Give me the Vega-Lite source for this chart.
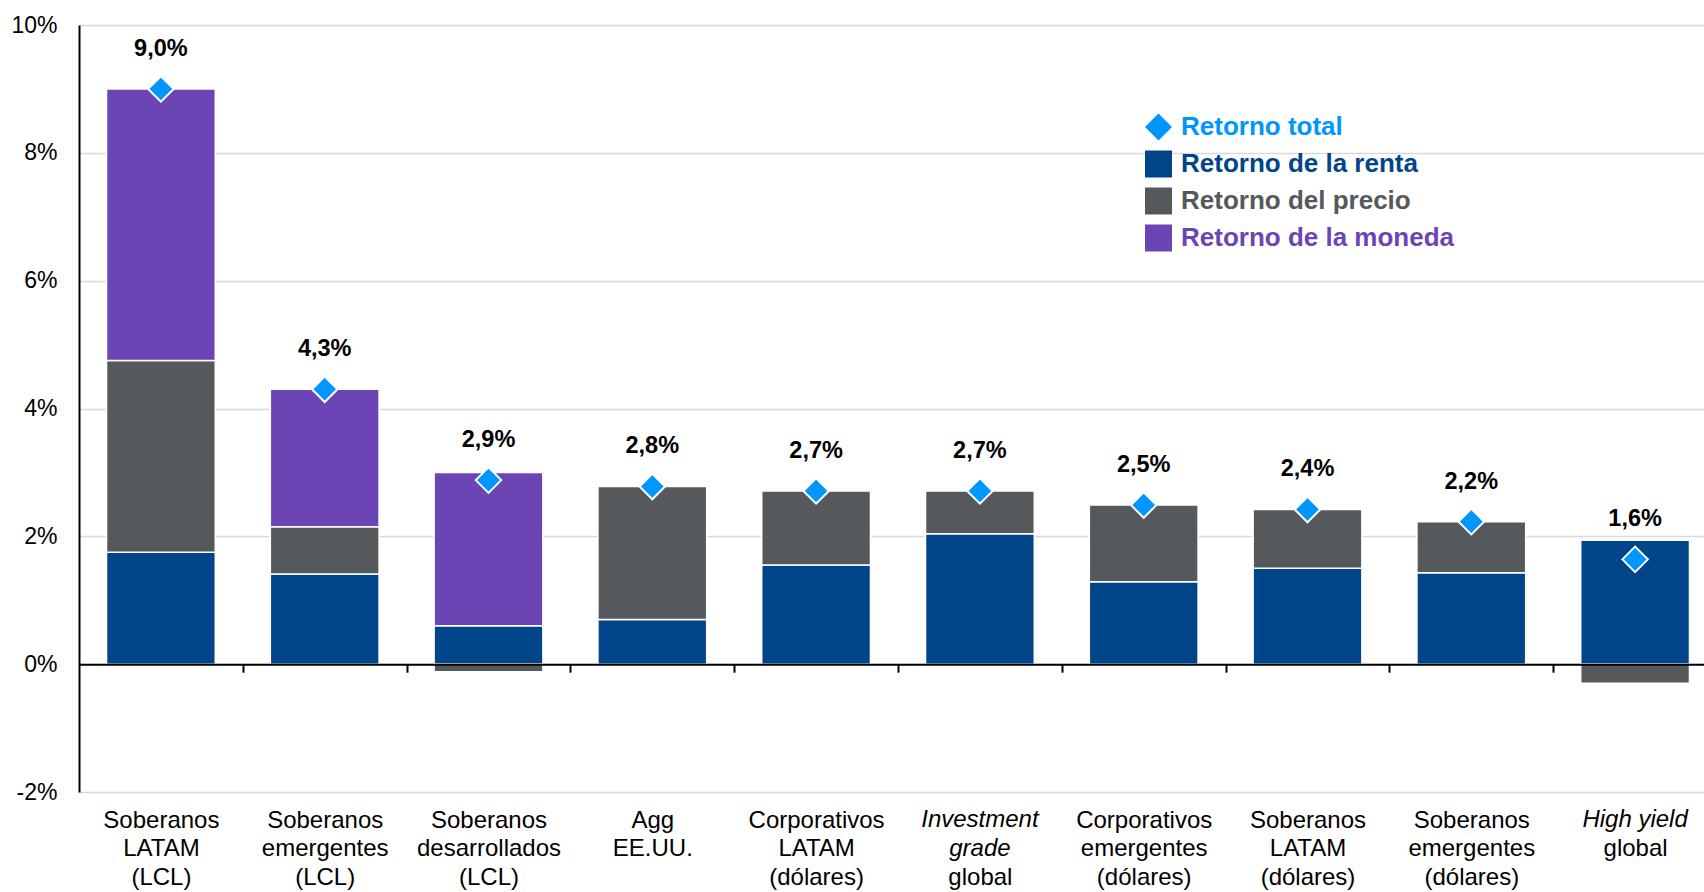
{
  "$schema": "https://vega.github.io/schema/vega-lite/v6.json",
  "width": 1625,
  "height": 767,
  "autosize": {"type": "none"},
  "padding": {"left": 79, "top": 25, "right": 0, "bottom": 100},
  "datasets": {
    "retornos": [
      {"categoria": "Soberanos|LATAM|(LCL)", "serie": "Retorno de la renta", "valor": 0.0175},
      {"categoria": "Soberanos|LATAM|(LCL)", "serie": "Retorno del precio", "valor": 0.0300},
      {"categoria": "Soberanos|LATAM|(LCL)", "serie": "Retorno de la moneda", "valor": 0.0425},
      {"categoria": "Soberanos|LATAM|(LCL)", "serie": "Retorno total", "valor": 0.0900},
      {"categoria": "Soberanos|emergentes|(LCL)", "serie": "Retorno de la renta", "valor": 0.0141},
      {"categoria": "Soberanos|emergentes|(LCL)", "serie": "Retorno del precio", "valor": 0.0074},
      {"categoria": "Soberanos|emergentes|(LCL)", "serie": "Retorno de la moneda", "valor": 0.0215},
      {"categoria": "Soberanos|emergentes|(LCL)", "serie": "Retorno total", "valor": 0.0430},
      {"categoria": "Soberanos|desarrollados|(LCL)", "serie": "Retorno de la renta", "valor": 0.0060},
      {"categoria": "Soberanos|desarrollados|(LCL)", "serie": "Retorno del precio", "valor": -0.0012},
      {"categoria": "Soberanos|desarrollados|(LCL)", "serie": "Retorno de la moneda", "valor": 0.0240},
      {"categoria": "Soberanos|desarrollados|(LCL)", "serie": "Retorno total", "valor": 0.0288},
      {"categoria": "Agg|EE.UU.", "serie": "Retorno de la renta", "valor": 0.0070},
      {"categoria": "Agg|EE.UU.", "serie": "Retorno del precio", "valor": 0.0208},
      {"categoria": "Agg|EE.UU.", "serie": "Retorno total", "valor": 0.0278},
      {"categoria": "Corporativos|LATAM|(dólares)", "serie": "Retorno de la renta", "valor": 0.0155},
      {"categoria": "Corporativos|LATAM|(dólares)", "serie": "Retorno del precio", "valor": 0.0116},
      {"categoria": "Corporativos|LATAM|(dólares)", "serie": "Retorno total", "valor": 0.0271},
      {"categoria": "Investment|grade|global", "serie": "Retorno de la renta", "valor": 0.0204},
      {"categoria": "Investment|grade|global", "serie": "Retorno del precio", "valor": 0.0067},
      {"categoria": "Investment|grade|global", "serie": "Retorno total", "valor": 0.0271},
      {"categoria": "Corporativos|emergentes|(dólares)", "serie": "Retorno de la renta", "valor": 0.0129},
      {"categoria": "Corporativos|emergentes|(dólares)", "serie": "Retorno del precio", "valor": 0.0120},
      {"categoria": "Corporativos|emergentes|(dólares)", "serie": "Retorno total", "valor": 0.0249},
      {"categoria": "Soberanos|LATAM|(dólares)", "serie": "Retorno de la renta", "valor": 0.0150},
      {"categoria": "Soberanos|LATAM|(dólares)", "serie": "Retorno del precio", "valor": 0.0092},
      {"categoria": "Soberanos|LATAM|(dólares)", "serie": "Retorno total", "valor": 0.0242},
      {"categoria": "Soberanos|emergentes|(dólares)", "serie": "Retorno de la renta", "valor": 0.0143},
      {"categoria": "Soberanos|emergentes|(dólares)", "serie": "Retorno del precio", "valor": 0.0080},
      {"categoria": "Soberanos|emergentes|(dólares)", "serie": "Retorno total", "valor": 0.0223},
      {"categoria": "High yield|global", "serie": "Retorno de la renta", "valor": 0.0194},
      {"categoria": "High yield|global", "serie": "Retorno del precio", "valor": -0.0030},
      {"categoria": "High yield|global", "serie": "Retorno total", "valor": 0.0164}
    ],
    "cursiva": [
      {"categoria": "Investment|grade|global", "texto": "Investment|grade"},
      {"categoria": "High yield|global", "texto": "High yield"}
    ]
  },
  "encoding": {
    "x": {
      "field": "categoria",
      "type": "nominal",
      "sort": null,
      "scale": {
        "domain": [
          "Soberanos|LATAM|(LCL)",
          "Soberanos|emergentes|(LCL)",
          "Soberanos|desarrollados|(LCL)",
          "Agg|EE.UU.",
          "Corporativos|LATAM|(dólares)",
          "Investment|grade|global",
          "Corporativos|emergentes|(dólares)",
          "Soberanos|LATAM|(dólares)",
          "Soberanos|emergentes|(dólares)",
          "High yield|global"
        ],
        "range": [0, 1638],
        "paddingInner": 0.336,
        "paddingOuter": 0.168
      },
      "axis": {
        "title": null,
        "offset": -127.8,
        "domain": true,
        "domainColor": "#000000",
        "domainWidth": 2,
        "ticks": true,
        "tickBand": "center",
        "tickOffset": 81.9,
        "labelOffset": -81.9,
        "tickColor": "#000000",
        "tickWidth": 2,
        "tickSize": 8,
        "labelAngle": 0,
        "labelFontSize": 24,
        "labelColor": "#000000",
        "labelLineHeight": 28.5,
        "labelPadding": 136,
        "labelLimit": 300,
        "labelExpr": "datum.label == 'Investment|grade|global' ? ['\u200b', '\u200b', 'global'] : datum.label == 'High yield|global' ? ['\u200b', 'global'] : split(datum.label, '|')",
        "zindex": 1
      }
    }
  },
  "layer": [
    {
      "data": {"name": "retornos"},
      "transform": [
        {"filter": "datum.serie != 'Retorno total'"},
        {"calculate": "indexof(['Retorno de la renta', 'Retorno del precio', 'Retorno de la moneda'], datum.serie)", "as": "orden"}
      ],
      "mark": {"type": "bar", "stroke": "white", "strokeWidth": 1.5},
      "encoding": {
        "y": {
          "field": "valor",
          "type": "quantitative",
          "stack": "zero",
          "scale": {"domain": [-0.02, 0.1], "nice": false, "zero": false},
          "axis": {
            "title": null,
            "values": [-0.02, 0, 0.02, 0.04, 0.06, 0.08, 0.1],
            "format": ".0%",
            "domain": true,
            "domainColor": "#000000",
            "domainWidth": 2,
            "ticks": false,
            "labelFontSize": 23,
            "labelColor": "#000000",
            "labelPadding": 22,
            "grid": true,
            "gridColor": "#d9d9d9",
            "gridWidth": 1.5
          }
        },
        "color": {
          "field": "serie",
          "type": "nominal",
          "scale": {
            "domain": ["Retorno total", "Retorno de la renta", "Retorno del precio", "Retorno de la moneda"],
            "range": ["#0096FF", "#00458A", "#55595C", "#6C45B5"]
          }
        },
        "order": {"field": "orden", "type": "quantitative", "sort": "ascending"}
      }
    },
    {
      "data": {"name": "retornos"},
      "transform": [{"filter": "datum.serie == 'Retorno total'"}],
      "mark": {"type": "point", "filled": true, "size": 650, "stroke": "white", "strokeWidth": 2, "opacity": 1},
      "encoding": {
        "y": {"field": "valor", "type": "quantitative"},
        "color": {"field": "serie", "type": "nominal"},
        "shape": {
          "field": "serie",
          "type": "nominal",
          "scale": {
            "domain": ["Retorno total", "Retorno de la renta", "Retorno del precio", "Retorno de la moneda"],
            "range": ["diamond", "square", "square", "square"]
          }
        }
      }
    },
    {
      "data": {"name": "retornos"},
      "transform": [{"filter": "datum.serie == 'Retorno total'"}],
      "mark": {"type": "text", "fontWeight": "bold", "fontSize": 23.5, "dy": -40, "baseline": "middle", "align": "center", "color": "#000000"},
      "encoding": {
        "y": {"field": "valor", "type": "quantitative"},
        "text": {"field": "valor", "type": "quantitative", "format": ".1%"}
      }
    },
    {
      "data": {"name": "cursiva"},
      "mark": {"type": "text", "fontStyle": "italic", "fontSize": 24, "lineBreak": "|", "lineHeight": 28.5, "baseline": "top", "align": "center", "dy": 144, "color": "#000000"},
      "encoding": {
        "y": {"datum": 0, "type": "quantitative"},
        "text": {"field": "texto", "type": "nominal"}
      }
    }
  ],
  "config": {
    "font": "Liberation Sans",
    "view": {"stroke": null},
    "locale": {"number": {"decimal": ",", "thousands": ".", "grouping": [3], "currency": ["", " €"], "minus": "-"}},
    "legend": {
      "orient": "none",
      "legendX": 1066,
      "legendY": 88.5,
      "title": null,
      "padding": 0,
      "symbolSize": 729,
      "symbolStrokeWidth": 0,
      "symbolOpacity": 1,
      "labelFontSize": 26,
      "labelFontWeight": "bold",
      "labelOffset": 9,
      "labelLimit": 500,
      "rowPadding": 10,
      "labelColor": {"expr": "scale('color', datum.value)"}
    }
  }
}
